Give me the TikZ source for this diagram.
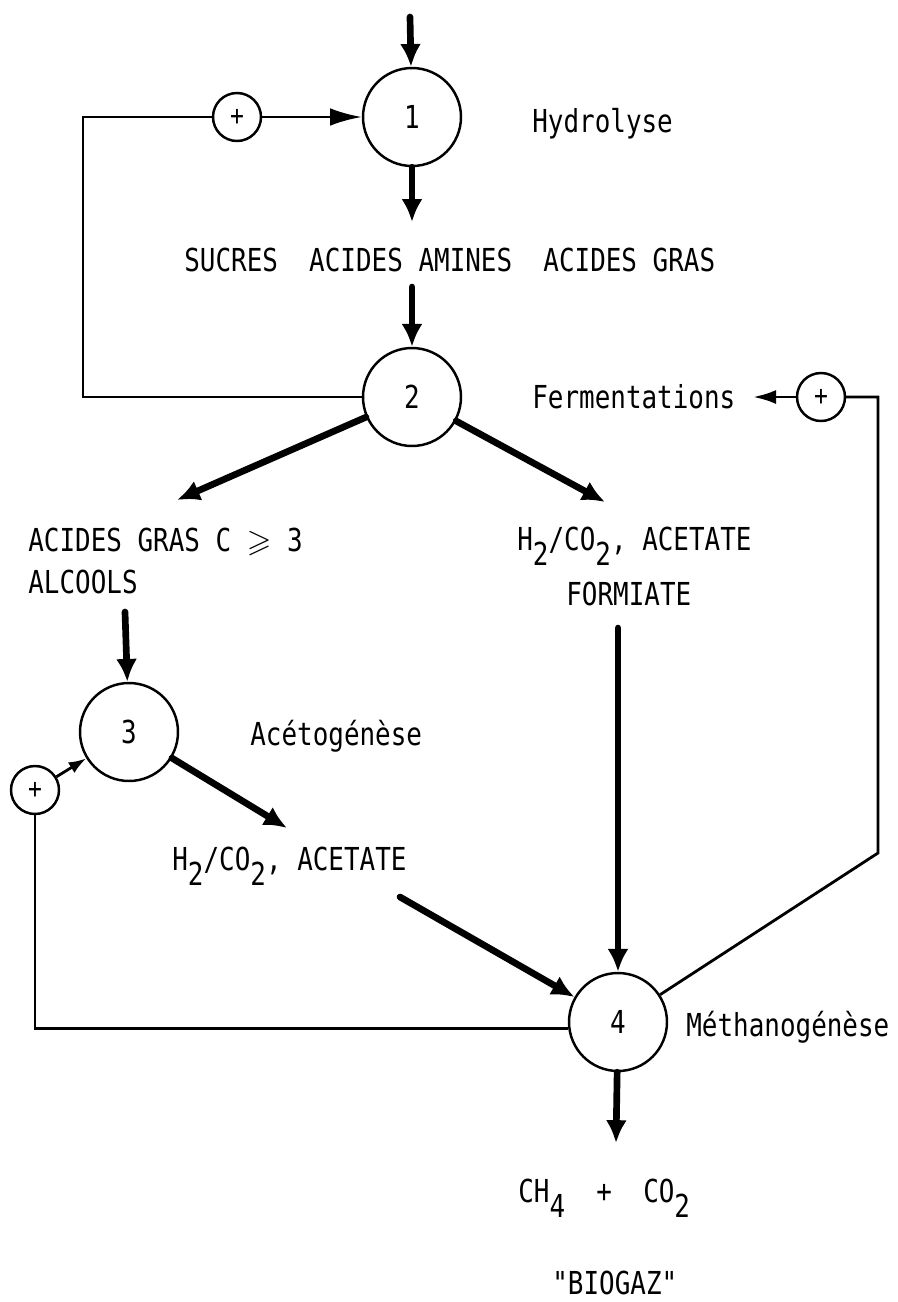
\documentclass[tikz,border=0pt]{standalone}
\usepackage{amssymb}
\usepackage{fontspec}
\usepackage{tikz}
\usetikzlibrary{arrows.meta}
\newfontfamily\plotter[FakeStretch=0.82]{DejaVu Sans Mono}
\newcommand{\dn}[1]{\raisebox{-0.5em}{#1}}

\begin{document}
\begin{tikzpicture}[x=0.02cm, y=-0.02cm]
  \tikzset{
    stage/.style={
      draw,
      circle,
      minimum size=1.96cm,
      inner sep=0pt,
      line width=1.4pt,
      font=\plotter\fontsize{18}{21}\selectfont
    },
    plus/.style={
      draw,
      circle,
      minimum size=0.96cm,
      inner sep=0pt,
      line width=1.4pt,
      font=\plotter\fontsize{16}{18}\selectfont
    },
    flow/.style={
      line width=3.8pt,
      line cap=round,
      -{Latex[length=13pt, width=12pt]}
    },
    feedback/.style={
      line width=1.6pt
    },
    feedarrow/.style={
      line width=1.6pt,
      -{Latex[length=13pt, width=8pt]}
    },
    txt/.style={
      font=\plotter\fontsize{18}{21}\selectfont,
      inner sep=0pt,
      anchor=base west
    }
  }
  \useasboundingbox (0,0) rectangle (897,1302);

  % Stages of the digestion
  \node[stage] (c1) at (412,117) {1};
  \node[stage] (c2) at (412,397) {2};
  \node[stage] (c3) at (129,732) {3};
  \node[stage] (c4) at (618,1022) {4};

  % Activation signs
  \node[plus] (p1) at (237,117) {+};
  \node[plus] (p2) at (821,397) {+};
  \node[plus] (p3) at (35,790) {+};

  % Names of the stages
  \node[txt] (hydro) at (532,132) {Hydrolyse};
  \node[txt] (ferm) at (532,408) {Fermentations};
  \node[txt] (aceto) at (250,745) {Acétogénèse};
  \node[txt] (metha) at (686,1036) {Méthanogénèse};

  % Products
  \node[txt] (sucres) at (184,271) {SUCRES~~ACIDES AMINES~~ACIDES GRAS};
  \node[txt] (agras) at (28,551) {ACIDES GRAS C $\geqslant$ 3};
  \node[txt] (alcools) at (28,593) {ALCOOLS};
  \node[txt] (hacet) at (517,550) {H\dn{2}/CO\dn{2}, ACETATE};
  \node[txt] (formi) at (566,605) {FORMIATE};
  \node[txt] (hacetb) at (172,870) {H\dn{2}/CO\dn{2}, ACETATE};
  \node[txt] (gaz) at (518,1202) {CH\dn{4}~~+~~CO\dn{2}};
  \node[txt] (biogaz) at (552,1294) {"BIOGAZ"};

  % Free ends of the arrows
  \coordinate (entree) at (410,17);
  \coordinate (sucresTop) at (412,222);
  \coordinate (sucresBot) at (412,287);
  \coordinate (agrasTip) at (177,500);
  \coordinate (hacetTip) at (605,502);
  \coordinate (alcoolsBot) at (125,612);
  \coordinate (hacetbTip) at (287,828);
  \coordinate (hacetbBot) at (400,897);
  \coordinate (formiBot) at (618,628);
  \coordinate (gazTop) at (616,1143);
  \coordinate (cornerA) at (83,117);
  \coordinate (cornerB) at (878,853);

  % Main flow
  \draw[flow] (entree) -- (c1);
  \draw[flow] (c1) -- (sucresTop);
  \draw[flow] (sucresBot) -- (c2);
  \draw[flow] (c2) -- (agrasTip);
  \draw[flow] (c2) -- (hacetTip);
  \draw[flow] (alcoolsBot) -- (c3);
  \draw[flow] (c3) -- (hacetbTip);
  \draw[flow] (hacetbBot) -- (c4);
  \draw[flow] (formiBot) -- (c4);
  \draw[flow] (c4) -- (gazTop);

  % Feedback loops
  \draw[feedback] (c2.west) -| (cornerA) -- (p1.west);
  \draw[feedarrow, -{Latex[length=18pt, width=10pt]}] (p1.east) -- (c1.west);
  \draw[feedback] (c4.33) -- (cornerB) |- (p2.east);
  \draw[feedarrow, shorten >=10pt] (p2.west) -- (p2.west -| ferm.east);
  \draw[feedback] (c4.187) -| (p3.south);
  \draw[feedarrow, -{Latex[length=10pt, width=7pt]}] (p3) -- (c3);
\end{tikzpicture}
\end{document}
